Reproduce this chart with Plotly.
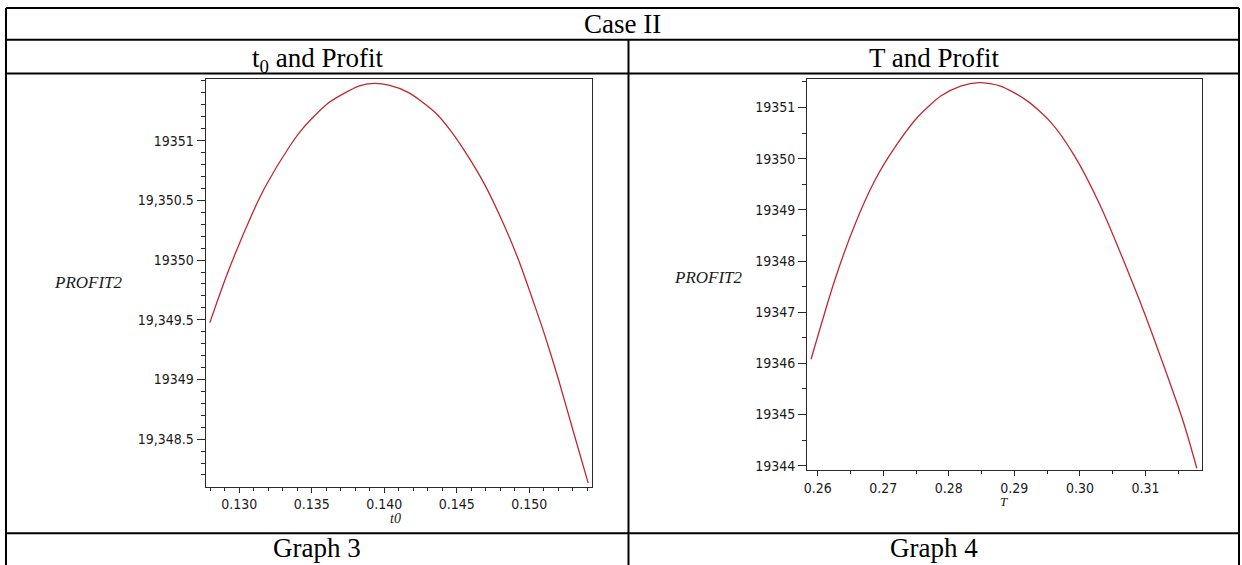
import plotly.graph_objects as go

# ---------------- data ----------------
t0_vals = [0.12798, 0.12920, 0.13091, 0.13183, 0.13344, 0.13435, 0.13619, 0.13825,
           0.13929, 0.14032, 0.14169, 0.14352, 0.14467, 0.14582, 0.14696, 0.14811,
           0.14926, 0.15040, 0.15109, 0.15201, 0.15292, 0.15407]
profit_t0 = [19349.476, 19349.891, 19350.390, 19350.620, 19350.945, 19351.097, 19351.319, 19351.457,
             19351.480, 19351.466, 19351.403, 19351.236, 19351.070, 19350.862, 19350.626, 19350.335,
             19350.002, 19349.612, 19349.365, 19349.004, 19348.616, 19348.131]

T_vals = [0.25898, 0.26253, 0.26557, 0.26861, 0.27166, 0.27522, 0.27877, 0.28181,
          0.28460, 0.28790, 0.29196, 0.29551, 0.29906, 0.30312, 0.30971, 0.31580, 0.31784]
profit_T = [19346.08, 19347.60, 19348.68, 19349.55, 19350.20, 19350.81, 19351.225, 19351.42,
            19351.485, 19351.42, 19351.13, 19350.72, 19350.08, 19349.08, 19347.03, 19344.85, 19343.95]

# tick labels
left_y_ticks = [19348.5, 19349, 19349.5, 19350, 19350.5, 19351]
left_y_text = ["19,348.5", "19349", "19,349.5", "19350", "19,350.5", "19351"]
left_x_ticks = [0.130, 0.135, 0.140, 0.145, 0.150]
left_x_text = ["0.130", "0.135", "0.140", "0.145", "0.150"]
right_y_ticks = [19344, 19345, 19346, 19347, 19348, 19349, 19350, 19351]
right_y_text = ["19344", "19345", "19346", "19347", "19348", "19349", "19350", "19351"]
right_x_ticks = [0.26, 0.27, 0.28, 0.29, 0.30, 0.31]
right_x_text = ["0.26", "0.27", "0.28", "0.29", "0.30", "0.31"]

title_text = "Case II"
header_left = "t<sub>0</sub> and Profit"
header_right = "T and Profit"
footer_left = "Graph 3"
footer_right = "Graph 4"
y_title = "PROFIT2"
x_title_left = "t0"
x_title_right = "T"

# ---------------- layout helpers ----------------
W, H = 1242, 565
def px(x):
    return x / W
def py(y):
    return 1 - y / H

LINE_RED = "#c0282e"
AX = "#2a2a2a"
tick_font = dict(family="DejaVu Sans Condensed, DejaVu Sans, sans-serif", size=14, color="#1a1a1a")

fig = go.Figure()
fig.add_trace(go.Scatter(x=t0_vals, y=profit_t0, mode="lines",
                         line=dict(color=LINE_RED, width=1.3, shape="spline", smoothing=0.7),
                         xaxis="x", yaxis="y", showlegend=False, hoverinfo="skip"))
fig.add_trace(go.Scatter(x=T_vals, y=profit_T, mode="lines",
                         line=dict(color=LINE_RED, width=1.3, shape="spline", smoothing=0.7),
                         xaxis="x2", yaxis="y2", showlegend=False, hoverinfo="skip"))

common = dict(showline=True, mirror=True, linecolor=AX, linewidth=1, showgrid=False,
              zeroline=False, ticks="outside", tickcolor=AX, tickwidth=1, tickfont=tick_font,
              fixedrange=True)

fig.update_layout(
    width=W, height=H, autosize=False,
    margin=dict(l=0, r=0, t=0, b=0),
    paper_bgcolor="white", plot_bgcolor="white",
    xaxis=dict(domain=[px(203), px(590.7)], range=[0.12768, 0.15435], anchor="y",
               tickmode="array", tickvals=left_x_ticks, ticktext=left_x_text, ticklen=5,
               minor=dict(tick0=0.130, dtick=0.001, ticklen=3, ticks="outside", tickcolor=AX),
               **common),
    yaxis=dict(domain=[py(490), py(80)], range=[19348.103, 19351.513], anchor="x",
               tickmode="array", tickvals=left_y_ticks, ticktext=left_y_text, ticklen=8,
               minor=dict(tick0=19348.5, dtick=0.1, ticklen=4, ticks="outside", tickcolor=AX),
               **common),
    xaxis2=dict(domain=[px(806), px(1201.7)], range=[0.25837, 0.31860], anchor="y2",
                tickmode="array", tickvals=right_x_ticks, ticktext=right_x_text, ticklen=5,
                minor=dict(tick0=0.26, dtick=0.005, ticklen=3, ticks="outside", tickcolor=AX),
                **common),
    yaxis2=dict(domain=[py(473.3), py(80)], range=[19343.917, 19351.549], anchor="x2",
                tickmode="array", tickvals=right_y_ticks, ticktext=right_y_text, ticklen=8,
                minor=dict(tick0=19344, dtick=0.5, ticklen=4, ticks="outside", tickcolor=AX),
                **common),
)

# ---------------- table lines ----------------
shapes = []
def hline(y, x0=3, x1=1239, w=2):
    shapes.append(dict(type="line", xref="paper", yref="paper", x0=px(x0), x1=px(x1),
                       y0=py(y), y1=py(y), line=dict(color="black", width=w)))
def vline(x, y0, y1, w=2):
    shapes.append(dict(type="line", xref="paper", yref="paper", x0=px(x), x1=px(x),
                       y0=py(y0), y1=py(y1), line=dict(color="black", width=w)))
hline(8)
hline(40)
hline(74)
hline(537)
vline(3, 8, 570)
vline(1239, 8, 570)
vline(627, 40, 570)
fig.update_layout(shapes=shapes)

# ---------------- texts ----------------
serif = "Liberation Serif, Times New Roman, serif"
ann = []
def text(x, y, s, size, family=serif, italic=False, color="black"):
    ann.append(dict(x=px(x), y=py(y), xref="paper", yref="paper", text=s, showarrow=False,
                    xanchor="center", yanchor="middle",
                    font=dict(family=family, size=size, color=color,
                              style="italic" if italic else "normal")))
text(621, 24.5, title_text, 27)
text(315, 60, header_left, 27)
text(933, 58, header_right, 27)
text(315, 551.5, footer_left, 27)
text(933, 551.5, footer_right, 27)
text(86, 285, y_title, 17, italic=True, color="#1a1a1a")
text(707, 279, y_title, 17, italic=True, color="#1a1a1a")
text(393, 522, x_title_left, 14, italic=True, color="#1a1a1a")
text(1003, 505, x_title_right, 13, italic=True, color="#1a1a1a")
fig.update_layout(annotations=ann)

fig.write_html("out.html", config={"displayModeBar": False, "staticPlot": True},
               post_script="document.body.style.margin='0';document.body.style.overflow='hidden';")
